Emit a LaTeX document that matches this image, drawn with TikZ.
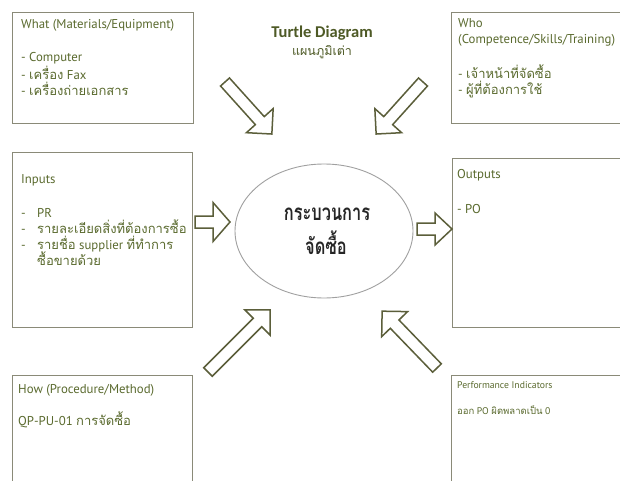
\documentclass[tikz,border=0pt]{standalone}
\usepackage{graphicx}
\usepackage{fontspec}
\setmainfont{PT Sans}
\newfontfamily\thaifont[Script=Thai]{Loma}
\newfontfamily\titlefont{Carlito}
\usetikzlibrary{shapes.geometric}
\definecolor{boxgray}{HTML}{8A8A78}
\definecolor{olivetext}{HTML}{5A6A2E}
\definecolor{titleolive}{HTML}{4E5A26}
\definecolor{arrowc}{HTML}{5B5E3A}
\definecolor{procgray}{HTML}{262626}
\definecolor{ellgray}{HTML}{A0A0A0}
\newcommand\thtxt[1]{{\thaifont\fontsize{13}{15}\selectfont #1}}
\newcommand\thsmall[1]{{\thaifont\fontsize{9.5}{11}\selectfont #1}}
\newcommand\blockarrow[6]{% x y angle length headlength headhalfwidth
  \draw[blockarr, shift={(#1,#2)}, rotate=#3]
    (0,-6) -- ({#4-#5},-6) -- ({#4-#5},-#6) -- (#4,0) -- ({#4-#5},#6)
    -- ({#4-#5},6) -- (0,6) -- cycle;}
\tikzset{
  boxnode/.style={draw=boxgray, line width=0.9pt, anchor=north west, inner sep=0pt},
  txt/.style={anchor=base west, inner sep=0pt, text=olivetext, font=\fontsize{12.8}{14}\selectfont},
  smalltxt/.style={anchor=base west, inner sep=0pt, text=olivetext, font=\fontsize{9.7}{11}\selectfont},
  blockarr/.style={draw=arrowc, line width=1.5pt, fill=white, line join=miter},
  proctxt/.style={anchor=base, inner sep=0pt, text=procgray, font=\thaifont\bfseries\fontsize{20}{24}\selectfont},
}
\begin{document}
\begin{tikzpicture}[x=1pt, y=-1pt]
\useasboundingbox (0,0) rectangle (620,481);
\clip (0,0) rectangle (620,481);
\fill[white] (0,0) rectangle (620,481);
% boxes
\node[boxnode, minimum width=181pt, minimum height=111pt] (what) at (12,12) {};
\node[boxnode, minimum width=180pt, minimum height=111pt] (who) at (451,12) {};
\node[boxnode, minimum width=180pt, minimum height=175pt] (inputs) at (12,152) {};
\node[boxnode, minimum width=180pt, minimum height=169pt] (outputs) at (452,158) {};
\node[boxnode, minimum width=180pt, minimum height=130pt] (how) at (12,375) {};
\node[boxnode, minimum width=180pt, minimum height=130pt] (perf) at (451,375) {};
% process ellipse
\node[draw=ellgray, line width=0.9pt, ellipse, minimum width=178pt, minimum height=134pt, inner sep=0pt] (proc) at (324,231) {};
\node[proctxt] (proc1) at (327,220) {\scalebox{0.82}[1.12]{กระบวนการ}};
\node[proctxt] (proc2) at (326,254) {\scalebox{0.82}[1.12]{จัดซื้อ}};
% title
\node[anchor=base, inner sep=0pt, text=titleolive, font=\titlefont\bfseries\fontsize{16.5}{19}\selectfont] (title) at (322,38) {Turtle Diagram};
\node[anchor=base, inner sep=0pt, text=titleolive, font=\thaifont\fontsize{12.5}{15}\selectfont] (subtitle) at (322,56) {แผนภูมิเต่า};
% What
\node[txt] (what0) at (21,29) {What (Materials/Equipment)};
\node[txt] (what1) at (21,62) {- Computer};
\node[txt] (what2) at (21,80) {- \thtxt{เครื่อง} Fax};
\node[txt] (what3) at (21,96) {- \thtxt{เครื่องถ่ายเอกสาร}};
% Who
\node[txt] (who0) at (458,28) {Who};
\node[txt] (who1) at (458,44) {(Competence/Skills/Training)};
\node[txt] (who2) at (458,79) {- \thtxt{เจ้าหน้าที่จัดซื้อ}};
\node[txt] (who3) at (458,95) {- \thtxt{ผู้ที่ต้องการใช้}};
% Inputs
\node[txt] (in0) at (21,183) {Inputs};
\node[txt] (inb1) at (21,217) {-};
\node[txt] (in1) at (37,217) {PR};
\node[txt] (inb2) at (21,233) {-};
\node[txt] (in2) at (37,233) {\thtxt{รายละเอียดสิ่งที่ต้องการซื้อ}};
\node[txt] (inb3) at (21,249) {-};
\node[txt] (in3) at (37,249) {\thtxt{รายชื่อ} supplier \thtxt{ที่ทำการ}};
\node[txt] (in4) at (37,265) {\thtxt{ซื้อขายด้วย}};
% Outputs
\node[txt] (out0) at (457,178) {Outputs};
\node[txt] (out1) at (457,213) {- PO};
% How
\node[txt] (how0) at (18,393) {How (Procedure/Method)};
\node[txt] (how1) at (18,425) {QP-PU-01 \thtxt{การจัดซื้อ}};
% Performance
\node[smalltxt] (perf0) at (457,388) {Performance Indicators};
\node[smalltxt] (perf1) at (457,414) {\thsmall{ออก} PO \thsmall{ผิดพลาดเป็น} 0};
% block arrows
\blockarrow{225}{82}{-48}{70}{18}{18}
\blockarrow{423}{82}{-132}{70}{18}{18}
\blockarrow{208}{372}{45}{88}{18}{18}
\blockarrow{437}{368}{134}{79}{18}{18}
\blockarrow{195}{222}{0}{35}{17}{19.5}
\blockarrow{417}{229}{0}{35}{17}{16}
\end{tikzpicture}
\end{document}
